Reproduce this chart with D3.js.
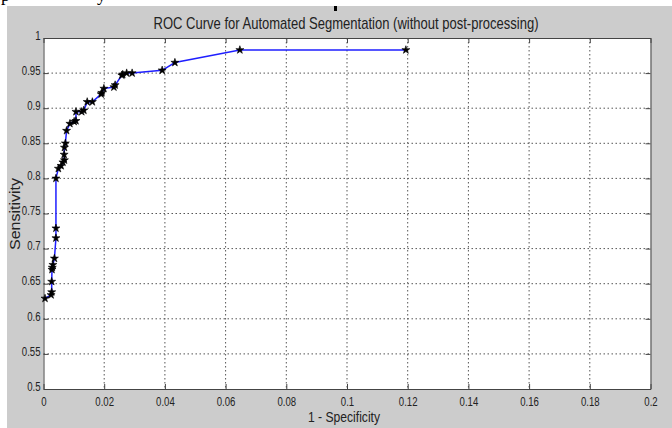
<!DOCTYPE html>
<html>
<head>
<meta charset="UTF-8">
<title>ROC Curve</title>
<script src="https://d3js.org/d3.v7.min.js"></script>
<style>
  body { margin: 0; background: #fff; }
  svg text { font-family: "Liberation Sans Narrow", "Liberation Sans", Arial, sans-serif; fill: #222; }
  .tick text { font-size: 12px; }
  .grid line { stroke: #555; stroke-dasharray: 1.5,2.5; stroke-width: 1; }
</style>
</head>
<body>
<div id="chart"></div>
<script>
// 1 - specificity (false positive rate)
var fpr = [0.0005, 0.0025, 0.0027, 0.0027, 0.0028, 0.0029, 0.0031, 0.0036, 0.0041, 0.0041,
           0.0041, 0.0049, 0.0058, 0.0064, 0.0069, 0.0068, 0.0069, 0.0072, 0.0076, 0.0087,
           0.0101, 0.0107, 0.0107, 0.0126, 0.0133, 0.0144, 0.0161, 0.0190, 0.0192, 0.0199,
           0.0232, 0.0236, 0.0258, 0.0261, 0.0274, 0.0292, 0.0391, 0.0433, 0.0647, 0.1194];
// sensitivity (true positive rate)
var tpr = [0.629, 0.634, 0.638, 0.653, 0.670, 0.673, 0.677, 0.686, 0.715, 0.729,
           0.800, 0.814, 0.818, 0.823, 0.826, 0.834, 0.844, 0.850, 0.868, 0.878,
           0.881, 0.882, 0.895, 0.895, 0.897, 0.909, 0.909, 0.920, 0.922, 0.928,
           0.930, 0.933, 0.947, 0.948, 0.950, 0.950, 0.954, 0.965, 0.983, 0.983];
var xTicks = [0, 0.02, 0.04, 0.06, 0.08, 0.1, 0.12, 0.14, 0.16, 0.18, 0.2];
var yTicks = [0.5, 0.55, 0.6, 0.65, 0.7, 0.75, 0.8, 0.85, 0.9, 0.95, 1];
var titleText = "ROC Curve for Automated Segmentation (without post-processing)";
var xLabel = "1 - Specificity";
var yLabel = "Sensitivity";

var width = 672, height = 428;
// plot box (named so they don't clash with window.top)
var pLeft = 43.5, pRight = 650.5, pTop = 38, pBottom = 389;

var svg = d3.select("#chart").append("svg")
    .attr("width", width)
    .attr("height", height);

// figure background (MATLAB grey), page strip above it
svg.append("rect").attr("x", 7).attr("y", 6).attr("width", width - 7).attr("height", height - 6)
    .attr("fill", "#cccccc");
// bits of the page text above the figure
svg.append("text").attr("x", 1).attr("y", 1).style("font-family", "Liberation Serif, serif")
    .style("font-size", "18px").style("fill", "#000").text("p");
svg.append("text").attr("x", 97).attr("y", 1).style("font-family", "Liberation Serif, serif")
    .style("font-size", "18px").style("fill", "#000").text("y");
svg.append("rect").attr("x", 334).attr("y", 6).attr("width", 3).attr("height", 5).attr("fill", "#000");

var x = d3.scaleLinear().domain([0, 0.2]).range([pLeft, pRight]);
var y = d3.scaleLinear().domain([0.5, 1]).range([pBottom, pTop]);

svg.append("rect")
    .attr("x", pLeft).attr("y", pTop)
    .attr("width", pRight - pLeft).attr("height", pBottom - pTop)
    .attr("fill", "#fff");

// grid
var grid = svg.append("g").attr("class", "grid");
grid.selectAll(".gx").data(xTicks.slice(1, -1)).enter().append("line")
    .attr("x1", function(d) { return x(d); }).attr("x2", function(d) { return x(d); })
    .attr("y1", pTop).attr("y2", pBottom);
grid.selectAll(".gy").data(yTicks.slice(1, -1)).enter().append("line")
    .attr("y1", function(d) { return y(d); }).attr("y2", function(d) { return y(d); })
    .attr("x1", pLeft).attr("x2", pRight);

// axes, ticks pointing inward like MATLAB
var fmt = function(d) { return String(+d.toFixed(2)); };
var xAxis = svg.append("g").attr("transform", "translate(0," + pBottom + ")")
    .call(d3.axisBottom(x).tickValues(xTicks).tickFormat(fmt).tickSizeInner(-5).tickSizeOuter(0).tickPadding(10));
var yAxis = svg.append("g").attr("transform", "translate(" + pLeft + ",0)")
    .call(d3.axisLeft(y).tickValues(yTicks).tickFormat(fmt).tickSizeInner(-5).tickSizeOuter(0).tickPadding(3));
svg.append("g").attr("transform", "translate(0," + pTop + ")")
    .call(d3.axisTop(x).tickValues(xTicks).tickSizeInner(-5).tickSizeOuter(0).tickFormat(""));
svg.append("g").attr("transform", "translate(" + pRight + ",0)")
    .call(d3.axisRight(y).tickValues(yTicks).tickSizeInner(-5).tickSizeOuter(0).tickFormat(""));
svg.selectAll(".domain").attr("stroke", "#444");
svg.selectAll(".tick line").attr("stroke", "#444");
xAxis.selectAll(".tick text").attr("dy", "0.6em");
yAxis.selectAll(".tick text").attr("dy", "0.1em");
// the figure's labels are condensed; squeeze them a bit
svg.selectAll(".tick text").each(function() {
    var len = this.getComputedTextLength();
    if (len > 0) d3.select(this).attr("textLength", len * 0.8).attr("lengthAdjust", "spacingAndGlyphs");
});

// curve
var pts = fpr.map(function(d, i) { return [d, tpr[i]]; });
svg.append("path")
    .datum(pts)
    .attr("fill", "none")
    .attr("stroke", "#1f1fff")
    .attr("stroke-width", 1.5)
    .attr("d", d3.line().x(function(d) { return x(d[0]); }).y(function(d) { return y(d[1]); }));

var star = d3.symbol().type(d3.symbolStar).size(20);
svg.selectAll(".pt").data(pts).enter().append("path")
    .attr("d", star)
    .attr("transform", function(d) { return "translate(" + x(d[0]) + "," + y(d[1]) + ")"; })
    .attr("fill", "#000")
    .attr("stroke", "#000")
    .attr("stroke-width", 0.6);

// labels
svg.append("text")
    .attr("x", 346).attr("y", 29)
    .attr("text-anchor", "middle")
    .attr("textLength", 385).attr("lengthAdjust", "spacingAndGlyphs")
    .style("font-size", "17px")
    .text(titleText);
svg.append("text")
    .attr("x", 344).attr("y", 422)
    .attr("text-anchor", "middle")
    .attr("textLength", 72).attr("lengthAdjust", "spacingAndGlyphs")
    .style("font-size", "14px")
    .text(xLabel);
svg.append("text")
    .attr("transform", "translate(20,214) rotate(-90)")
    .attr("text-anchor", "middle")
    .attr("textLength", 72).attr("lengthAdjust", "spacingAndGlyphs")
    .style("font-size", "14px")
    .text(yLabel);
</script>
</body>
</html>
